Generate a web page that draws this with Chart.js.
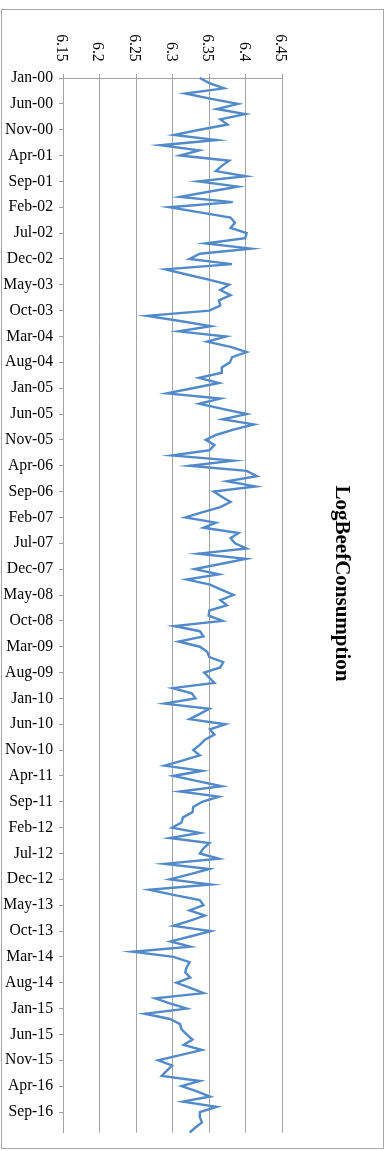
<!DOCTYPE html>
<html>
<head>
<meta charset="utf-8">
<script src="https://cdn.jsdelivr.net/npm/chart.js@4.4.1/dist/chart.umd.min.js"></script>
<style>
  html, body { margin: 0; padding: 0; background: #fff; }
</style>
</head>
<body>
<canvas id="beef" width="389" height="1151"></canvas>
<script>
// monthly series, Jan-00 .. Jan-17 (one row per year)
const logBeef = [
  6.337, 6.350, 6.370, 6.317, 6.351, 6.389, 6.360, 6.399, 6.365, 6.375, 6.337, 6.302,
  6.360, 6.283, 6.336, 6.310, 6.377, 6.367, 6.359, 6.400, 6.335, 6.389, 6.349, 6.310,
  6.382, 6.295, 6.337, 6.379, 6.385, 6.379, 6.401, 6.399, 6.345, 6.407, 6.337, 6.323,
  6.381, 6.290, 6.319, 6.349, 6.377, 6.365, 6.379, 6.363, 6.365, 6.350, 6.265, 6.310,
  6.352, 6.308, 6.373, 6.347, 6.379, 6.401, 6.381, 6.378, 6.367, 6.367, 6.336, 6.363,
  6.327, 6.292, 6.365, 6.336, 6.368, 6.401, 6.368, 6.411, 6.383, 6.360, 6.345, 6.357,
  6.350, 6.299, 6.383, 6.323, 6.401, 6.415, 6.374, 6.413, 6.356, 6.367, 6.379, 6.365,
  6.340, 6.317, 6.359, 6.342, 6.390, 6.379, 6.385, 6.401, 6.335, 6.400, 6.365, 6.330,
  6.363, 6.319, 6.351, 6.367, 6.383, 6.365, 6.374, 6.350, 6.349, 6.368, 6.302, 6.337,
  6.342, 6.308, 6.337, 6.347, 6.350, 6.369, 6.365, 6.343, 6.350, 6.357, 6.300, 6.326,
  6.331, 6.289, 6.350, 6.337, 6.323, 6.372, 6.351, 6.357, 6.344, 6.337, 6.328, 6.337,
  6.314, 6.289, 6.340, 6.301, 6.334, 6.367, 6.310, 6.363, 6.340, 6.328, 6.327, 6.314,
  6.312, 6.299, 6.337, 6.296, 6.350, 6.342, 6.337, 6.363, 6.289, 6.350, 6.324, 6.296,
  6.352, 6.268, 6.301, 6.337, 6.342, 6.323, 6.344, 6.324, 6.301, 6.352, 6.325, 6.297,
  6.324, 6.245, 6.301, 6.323, 6.319, 6.317, 6.324, 6.305, 6.324, 6.342, 6.276, 6.296,
  6.319, 6.262, 6.296, 6.310, 6.312, 6.319, 6.327, 6.315, 6.340, 6.310, 6.280, 6.299,
  6.292, 6.285, 6.337, 6.312, 6.333, 6.351, 6.314, 6.360, 6.337, 6.337, 6.340, 6.331,
  6.323
];

const monthAbbr = ['Jan', 'Feb', 'Mar', 'Apr', 'May', 'Jun', 'Jul', 'Aug', 'Sep', 'Oct', 'Nov', 'Dec'];
const firstYear = 2000;
const labelEvery = 5; // a date label every 5 months

const valueMin = 6.15;
const valueMax = 6.45;
const valueStep = 0.05;

const categories = logBeef.map((v, i) => {
  const yy = (firstYear + Math.floor(i / 12)) % 100;
  return monthAbbr[i % 12] + '-' + String(yy).padStart(2, '0');
});

const gridGrey = '#a3a3a3';
const serif = '"Liberation Serif", "Times New Roman", serif';

// value labels on top read top-to-bottom, title on the right, outer frame
const excelBits = {
  id: 'excelBits',
  beforeDraw(chart) {
    const ctx = chart.ctx;
    ctx.save();
    ctx.fillStyle = '#fff';
    ctx.fillRect(0, 0, chart.width, chart.height);
    ctx.restore();
  },
  afterDraw(chart) {
    const ctx = chart.ctx;
    const xs = chart.scales.x;
    ctx.save();
    ctx.fillStyle = '#000';
    ctx.font = '15.7px ' + serif;
    ctx.textAlign = 'right';
    ctx.textBaseline = 'middle';
    xs.ticks.forEach(t => {
      const px = xs.getPixelForValue(t.value);
      ctx.save();
      ctx.translate(px - 2, 61.7);
      ctx.rotate(Math.PI / 2);
      ctx.fillText(t.label, 0, 0);
      ctx.restore();
    });

    ctx.font = 'bold 21px ' + serif;
    ctx.textAlign = 'center';
    ctx.textBaseline = 'alphabetic';
    ctx.translate(336, 583.5);
    ctx.rotate(Math.PI / 2);
    ctx.fillText('LogBeefConsumption', 0, 0);
    ctx.restore();

    ctx.save();
    ctx.strokeStyle = '#a6a6a6';
    ctx.lineWidth = 1;
    ctx.strokeRect(1.5, 9.5, 382, 1139);
    ctx.restore();
  }
};

new Chart(document.getElementById('beef').getContext('2d'), {
  type: 'line',
  data: {
    labels: categories,
    datasets: [{
      label: 'LogBeefConsumption',
      data: logBeef,
      borderColor: '#5289c9',
      borderWidth: 2.4,
      pointRadius: 0,
      tension: 0,
      fill: false
    }]
  },
  options: {
    indexAxis: 'y',
    responsive: false,
    animation: false,
    layout: { padding: { left: 0, top: 0, right: 106.5, bottom: 18.3 } },
    plugins: {
      legend: { display: false },
      title: { display: false },
      tooltip: { enabled: false }
    },
    scales: {
      x: {
        type: 'linear',
        position: 'top',
        min: valueMin,
        max: valueMax,
        afterFit(scale) { scale.height = 78; },
        ticks: {
          display: false,
          stepSize: valueStep,
          callback: v => String(+Number(v).toFixed(2))
        },
        grid: { color: gridGrey, lineWidth: 1, drawTicks: true, tickLength: 4 },
        border: { display: true, color: gridGrey, width: 1 }
      },
      y: {
        type: 'category',
        position: 'left',
        afterFit(scale) { scale.width = 63; },
        afterBuildTicks(scale) {
          scale.ticks = scale.ticks.filter(t => t.value % labelEvery === 0);
        },
        ticks: {
          autoSkip: false,
          padding: 6,
          color: '#000',
          font: { family: serif, size: 15.7 }
        },
        grid: { drawOnChartArea: false, color: gridGrey, drawTicks: true, tickLength: 4 },
        border: { display: true, color: gridGrey, width: 1 }
      }
    }
  },
  plugins: [excelBits]
});
</script>
</body>
</html>
